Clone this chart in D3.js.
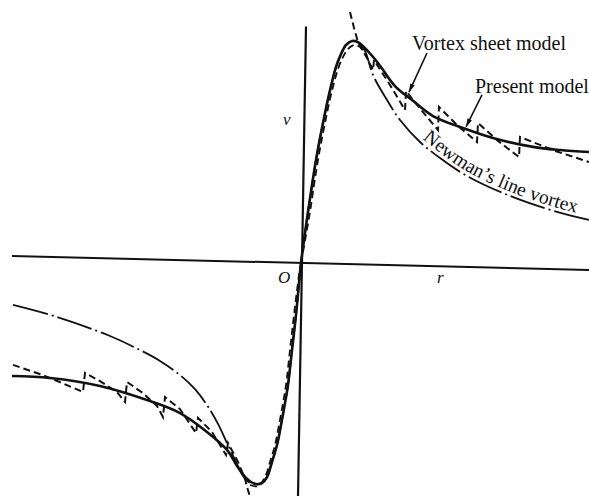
<!DOCTYPE html>
<html><head><meta charset="utf-8">
<script src="https://cdn.jsdelivr.net/npm/d3@7"></script>
<style>html,body{margin:0;padding:0;background:#fff;}svg{display:block}</style>
</head><body>
<svg id="chart" width="589" height="496"></svg>
<script>
// ---- data (r, v) ----
const presentModel = [
  [-5.78,-0.509],[-5.02,-0.518],[-4.02,-0.554],[-3.02,-0.622],[-2.42,-0.676],[-1.88,-0.761],
  [-1.48,-0.842],[-1.28,-0.914],[-1.10,-0.968],[-0.92,-0.995],[-0.78,-0.991],[-0.68,-0.964],
  [-0.58,-0.896],[-0.48,-0.820],[-0.40,-0.730],[-0.32,-0.631],[-0.26,-0.550],[-0.18,-0.392],
  [-0.10,-0.234],[0,0],[0.06,0.104],[0.14,0.230],[0.22,0.351],[0.30,0.464],[0.38,0.563],
  [0.46,0.653],[0.54,0.739],[0.62,0.815],[0.70,0.883],[0.80,0.941],[0.90,0.982],[1.02,1.000],
  [1.14,0.995],[1.28,0.968],[1.54,0.901],[1.88,0.797],[2.22,0.734],[2.64,0.662],[3.24,0.608],
  [3.84,0.563],[4.64,0.523],[5.18,0.509],[5.76,0.500]
];
const newmanLineVortex = [
  [-5.76,-0.189],[-4.88,-0.243],[-3.82,-0.329],[-3.22,-0.392],[-2.82,-0.441],[-2.42,-0.505],
  [-2.12,-0.568],[-1.88,-0.640],[-1.66,-0.725],[-1.48,-0.811],[-1.30,-0.896],[-1.16,-0.959],
  [-1.02,-0.991],[-0.92,-0.995],
  [-0.78,-0.991],[-0.68,-0.964],[-0.58,-0.896],[-0.48,-0.820],[-0.40,-0.730],[-0.32,-0.631],
  [-0.26,-0.550],[-0.18,-0.392],[-0.10,-0.234],[0,0],[0.06,0.104],[0.14,0.230],[0.22,0.351],
  [0.30,0.464],[0.38,0.563],[0.46,0.653],[0.54,0.739],[0.62,0.815],[0.70,0.883],[0.80,0.941],
  [0.90,0.982],[1.02,1.000],[1.14,0.995],[1.28,0.955],[1.44,0.847],[1.72,0.734],[1.98,0.644],
  [2.38,0.545],[2.78,0.473],[3.32,0.392],[4.18,0.302],[5.12,0.230],[5.76,0.194]
];
// vortex sheet model: piecewise branches with jumps at each sheet
const sheetLeftOuter = [
  [-5.76,-0.459],[-5.16,-0.505],[-4.68,-0.550],[-4.36,-0.581],[-4.32,-0.495],[-4.02,-0.532],
  [-3.68,-0.581],[-3.52,-0.626],[-3.48,-0.536],[-3.16,-0.586],[-2.88,-0.644],[-2.76,-0.694],
  [-2.72,-0.604],[-2.42,-0.658],[-2.10,-0.766],[-2.06,-0.698],[-1.78,-0.761],[-1.50,-0.865],
  [-1.46,-0.811],[-1.26,-0.896],[-1.12,-0.973],[-1.06,-1.023],[-1.00,-1.068],[-0.96,-1.113]
];
const sheetLeftCore = [
  [-1.02,-1.000],[-0.86,-1.005],[-0.72,-0.964],[-0.62,-0.896],[-0.52,-0.820],[-0.44,-0.730],
  [-0.36,-0.631],[-0.30,-0.550],[-0.22,-0.392],[-0.14,-0.234],[-0.04,-0.054],[0,0]
];
const sheetRightCore = [
  [0,0],[0.10,0.126],[0.18,0.230],[0.26,0.351],[0.34,0.464],[0.42,0.563],[0.50,0.653],
  [0.58,0.739],[0.66,0.811],[0.74,0.874],[0.84,0.928],[0.94,0.964],[1.06,0.982],[1.18,0.973],[1.30,0.932]
];
const sheetRightOuter = [
  [0.98,1.131],[1.06,1.059],[1.14,0.995],[1.30,0.932],[1.44,0.869],[1.46,0.914],[1.78,0.802],
  [2.08,0.689],[2.10,0.775],[2.42,0.685],[2.74,0.599],[2.76,0.703],[3.14,0.617],[3.52,0.545],
  [3.54,0.631],[3.94,0.550],[4.36,0.477],[4.38,0.568],[5.08,0.505],[5.76,0.455]
];
// annotations (data units)
const labelVortexSheet = {text:"Vortex sheet model", at:[2.22,0.959], arrowFrom:[2.52,0.946], arrowTo:[2.16,0.770]};
const labelPresent = {text:"Present model", at:[3.48,0.766], arrowFrom:[3.62,0.757], arrowTo:[3.30,0.613]};
const labelNewman = "Newman\u2019s line vortex";
const axisLabels = [{text:"v", at:[-0.36,0.62]},{text:"O", at:[-0.46,-0.09]},{text:"r", at:[2.72,-0.09]}];

// ---- drawing ----
const W = 589, H = 496;
const svg = d3.select("#chart");
const x = d3.scaleLinear().domain([-6,6]).range([1,601]);
const y = d3.scaleLinear().domain([-1.2,1.2]).range([263+266.4, 263-266.4]);
const ink = "#111";
const serif = "'Liberation Serif','Times New Roman',serif";

svg.append("rect").attr("width",W).attr("height",H).attr("fill","#fff");
const defs = svg.append("defs");
defs.append("marker").attr("id","ah").attr("viewBox","0 0 10 6").attr("refX",10).attr("refY",3)
  .attr("markerWidth",9).attr("markerHeight",5).attr("markerUnits","userSpaceOnUse").attr("orient","auto")
  .append("path").attr("d","M0,0L10,3L0,6Z").attr("fill",ink);

// axes (scan is slightly rotated)
svg.append("line").attr("x1",x(-5.78)).attr("y1",y(0)-7).attr("x2",x(5.76)).attr("y2",y(0)+7)
  .attr("stroke",ink).attr("stroke-width",2);
svg.append("line").attr("x1",x(0)+5).attr("y1",y(1.065)).attr("x2",x(0)-3).attr("y2",H)
  .attr("stroke",ink).attr("stroke-width",2.2);

const smooth = d3.line().x(d=>x(d[0])).y(d=>y(d[1])).curve(d3.curveCatmullRom.alpha(0.5));
const straight = d3.line().x(d=>x(d[0])).y(d=>y(d[1]));

svg.append("path").attr("d",smooth(newmanLineVortex)).attr("fill","none").attr("stroke",ink)
  .attr("stroke-width",1.8).attr("stroke-dasharray","36,4,2,4");
[sheetLeftOuter, sheetRightOuter].forEach(s=>{
  svg.append("path").attr("d",straight(s)).attr("fill","none").attr("stroke",ink)
    .attr("stroke-width",2).attr("stroke-dasharray","7,4");
});
[sheetLeftCore, sheetRightCore].forEach(s=>{
  svg.append("path").attr("d",smooth(s)).attr("fill","none").attr("stroke",ink)
    .attr("stroke-width",1.8).attr("stroke-dasharray","7,4");
});
svg.append("path").attr("d",smooth(presentModel)).attr("fill","none").attr("stroke",ink)
  .attr("stroke-width",2.6);

// labels with arrows
[labelVortexSheet, labelPresent].forEach(l=>{
  svg.append("text").attr("x",x(l.at[0])).attr("y",y(l.at[1])).text(l.text)
    .attr("font-family",serif).attr("font-size",20).attr("fill",ink);
  svg.append("line").attr("x1",x(l.arrowFrom[0])).attr("y1",y(l.arrowFrom[1]))
    .attr("x2",x(l.arrowTo[0])).attr("y2",y(l.arrowTo[1]))
    .attr("stroke",ink).attr("stroke-width",1.6).attr("marker-end","url(#ah)");
});

// Newman label along the curve
const np = newmanLineVortex.filter(d=>d[0]>=2.2).map(d=>[x(d[0]),y(d[1])]);
const off = 4;
const offPts = np.map((p,i)=>{
  const a = np[Math.max(0,i-1)], b = np[Math.min(np.length-1,i+1)];
  const dx=b[0]-a[0], dy=b[1]-a[1], L=Math.hypot(dx,dy);
  return [p[0]+dy/L*off, p[1]-dx/L*off];
});
defs.append("path").attr("id","npath")
  .attr("d", d3.line().curve(d3.curveCatmullRom.alpha(0.5))(offPts.concat([[offPts[offPts.length-1][0]+60, offPts[offPts.length-1][1]+12]])));
svg.append("text").attr("font-family",serif).attr("font-size",19.5).attr("fill",ink)
  .append("textPath").attr("href","#npath").attr("startOffset",0).text(labelNewman);

axisLabels.forEach(l=>{
  svg.append("text").attr("x",x(l.at[0])).attr("y",y(l.at[1])).text(l.text)
    .attr("font-family",serif).attr("font-style","italic").attr("font-size",17).attr("fill",ink);
});
</script>
</body></html>
